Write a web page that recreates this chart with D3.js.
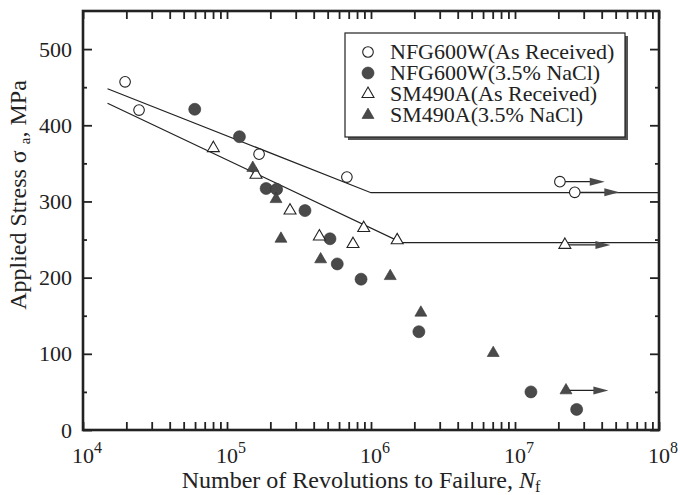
<!DOCTYPE html>
<html>
<head>
<meta charset="utf-8">
<script src="https://cdn.jsdelivr.net/npm/d3@7"></script>
<style>
  body { margin: 0; background: #fff; }
  svg text { font-family: 'Liberation Serif', 'Times New Roman', Times, 'Nimbus Roman', 'DejaVu Serif', serif; }
</style>
</head>
<body>
<div id="chart"></div>
<script>
// S-N data (Nf = revolutions to failure, stress in MPa)
const nfgAirN = [1.96e4, 2.45e4, 1.67e5, 6.8e5, 2.05e7, 2.6e7];
const nfgAirS = [457, 420, 362, 332, 326, 312];
const nfgNaclN = [5.97e4, 1.22e5, 1.87e5, 2.21e5, 3.48e5, 5.19e5, 5.83e5, 8.53e5, 2.15e6, 1.29e7, 2.68e7];
const nfgNaclS = [421, 385, 317, 316, 288, 251, 218, 198, 129, 50, 27];
const smAirN = [8.04e4, 1.59e5, 2.74e5, 4.38e5, 7.5e5, 8.9e5, 1.52e6, 2.22e7];
const smAirS = [370, 335, 288, 254, 244, 265, 249, 243];
const smNaclN = [1.51e5, 2.19e5, 2.37e5, 4.47e5, 1.36e6, 2.22e6, 7.06e6, 2.26e7];
const smNaclS = [344, 303, 251, 224, 202, 154, 101, 52];

// run-out specimens (arrow to the right)
const runoutN = [2.05e7, 2.6e7, 2.22e7, 2.26e7];
const runoutS = [326, 312, 243, 52];
const runoutEnd = [4.2e7, 5.3e7, 4.6e7, 4.45e7];

// fitted S-N lines (N, S)
const nfgFitN = [1.48e4, 1e6, 1e8];
const nfgFitS = [448, 311.5, 311.5];
const smFitN = [1.48e4, 1.63e6, 1e8];
const smFitS = [429, 246, 246];

const yTicks = [0, 100, 200, 300, 400, 500];
const yMinor = [50, 150, 250, 350, 450];
const xDecades = [1e4, 1e5, 1e6, 1e7, 1e8];
const xExponents = ['4', '5', '6', '7', '8'];
const legendLabels = ['NFG600W(As Received)', 'NFG600W(3.5% NaCl)', 'SM490A(As Received)', 'SM490A(3.5% NaCl)'];

const W = 680, H = 495;
const ink = '#222', fillGray = '#4a4a4a';
const serif = "'Liberation Serif', 'Times New Roman', Times, 'Nimbus Roman', 'DejaVu Serif', serif";

const svg = d3.select('#chart').append('svg')
  .attr('width', W).attr('height', H)
  .attr('font-family', serif);

const x = d3.scaleLog().domain([1e4, 1e8]).range([83, 659]);
const y = d3.scaleLinear().domain([0, 550]).range([430, 11]);

// all log ticks 1..9 per decade
const xAll = [];
xDecades.slice(0, -1).forEach(d => { for (let k = 1; k < 10; k++) xAll.push(d * k); });
xAll.push(1e8);

function styleAxis(g) {
  g.attr('font-family', serif);
  g.select('.domain').remove();
  g.selectAll('.tick line').attr('stroke', ink).attr('stroke-width', 1.8);
}

// bottom / top ticks (inward)
svg.append('g').attr('transform', 'translate(0,430)')
  .call(d3.axisBottom(x).tickValues(xAll).tickSize(-8).tickFormat(''))
  .call(styleAxis);
svg.append('g').attr('transform', 'translate(0,11)')
  .call(d3.axisTop(x).tickValues(xAll).tickSize(-8).tickFormat(''))
  .call(styleAxis);

// left / right ticks (inward)
const yl = svg.append('g').attr('transform', 'translate(83,0)')
  .call(d3.axisLeft(y).tickValues(yTicks).tickSize(-9).tickPadding(11))
  .call(styleAxis);
yl.selectAll('.tick text').attr('font-size', 22).attr('fill', ink);
svg.append('g').attr('transform', 'translate(83,0)')
  .call(d3.axisLeft(y).tickValues(yMinor).tickSize(-4).tickFormat(''))
  .call(styleAxis);
svg.append('g').attr('transform', 'translate(659,0)')
  .call(d3.axisRight(y).tickValues(yTicks).tickSize(-9).tickFormat(''))
  .call(styleAxis);
svg.append('g').attr('transform', 'translate(659,0)')
  .call(d3.axisRight(y).tickValues(yMinor).tickSize(-4).tickFormat(''))
  .call(styleAxis);

// x tick labels 10^n
xDecades.forEach((d, i) => {
  const t = svg.append('text')
    .attr('x', x(d) - 11).attr('y', 463)
    .attr('font-size', 22).attr('fill', ink);
  t.append('tspan').text('10');
  t.append('tspan').attr('font-size', 16).attr('dy', -10).text(xExponents[i]);
});

// frame
svg.append('rect')
  .attr('x', 83).attr('y', 11).attr('width', 576).attr('height', 419)
  .attr('fill', 'none').attr('stroke', ink).attr('stroke-width', 2.6);

// fit lines
const line = d3.line().x(d => x(d[0])).y(d => y(d[1]));
[[nfgFitN, nfgFitS], [smFitN, smFitS]].forEach(([ns, ss]) => {
  svg.append('path')
    .attr('d', line(ns.map((n, i) => [n, ss[i]])))
    .attr('fill', 'none').attr('stroke', ink).attr('stroke-width', 1.2);
});

// run-out arrows
runoutN.forEach((n, i) => {
  const x0 = x(n), x1 = x(runoutEnd[i]), yy = y(runoutS[i]);
  svg.append('line').attr('x1', x0).attr('x2', x1 - 10).attr('y1', yy).attr('y2', yy)
    .attr('stroke', ink).attr('stroke-width', 1.2);
  svg.append('path')
    .attr('d', `M${x1},${yy}L${x1 - 15},${yy - 4}L${x1 - 15},${yy + 4}Z`)
    .attr('fill', fillGray);
});

// markers
const tri = d3.symbol().type(d3.symbolTriangle).size(62);
function drawMarker(g, px, py, kind) {
  if (kind === 'openCircle') {
    g.append('circle').attr('cx', px).attr('cy', py).attr('r', 5.3)
      .attr('fill', '#fff').attr('stroke', ink).attr('stroke-width', 1.1);
  } else if (kind === 'filledCircle') {
    g.append('circle').attr('cx', px).attr('cy', py).attr('r', 6)
      .attr('fill', fillGray).attr('stroke', '#333').attr('stroke-width', 0.6);
  } else if (kind === 'openTriangle') {
    g.append('path').attr('d', tri()).attr('transform', `translate(${px},${py})`)
      .attr('fill', '#fff').attr('stroke', ink).attr('stroke-width', 1.1);
  } else {
    g.append('path').attr('d', tri()).attr('transform', `translate(${px},${py})`)
      .attr('fill', fillGray).attr('stroke', '#333').attr('stroke-width', 0.6);
  }
}
function drawSeries(ns, ss, kind) {
  ns.forEach((n, i) => drawMarker(svg, x(n), y(ss[i]), kind));
}
drawSeries(nfgAirN, nfgAirS, 'openCircle');
drawSeries(nfgNaclN, nfgNaclS, 'filledCircle');
drawSeries(smAirN, smAirS, 'openTriangle');
drawSeries(smNaclN, smNaclS, 'filledTriangle');

// legend
const lg = svg.append('g');
lg.append('rect').attr('x', 348).attr('y', 36).attr('width', 280).attr('height', 104)
  .attr('fill', '#555');
lg.append('rect').attr('x', 345).attr('y', 33).attr('width', 280).attr('height', 104)
  .attr('fill', '#fff').attr('stroke', ink).attr('stroke-width', 1.2);
const kinds = ['openCircle', 'filledCircle', 'openTriangle', 'filledTriangle'];
legendLabels.forEach((lab, i) => {
  const cy = 52 + i * 21;
  drawMarker(lg, 368, cy, kinds[i]);
  lg.append('text').attr('x', 390).attr('y', cy + 7)
    .attr('font-size', 22).attr('fill', ink).text(lab);
});

// axis titles
const xt = svg.append('text').attr('x', 361).attr('y', 488)
  .attr('text-anchor', 'middle').attr('font-size', 24).attr('fill', ink);
xt.append('tspan').text('Number of Revolutions to Failure, ');
xt.append('tspan').attr('font-style', 'italic').text('N');
xt.append('tspan').attr('font-size', 16).attr('dy', 4).text('f');

const yt = svg.append('text')
  .attr('transform', 'translate(26,195) rotate(-90)')
  .attr('text-anchor', 'middle').attr('font-size', 24).attr('fill', ink);
yt.append('tspan').text('Applied Stress σ ');
yt.append('tspan').attr('font-size', 15).attr('dy', 4).text('a');
yt.append('tspan').attr('dy', -4).text(', MPa');
</script>
</body>
</html>
